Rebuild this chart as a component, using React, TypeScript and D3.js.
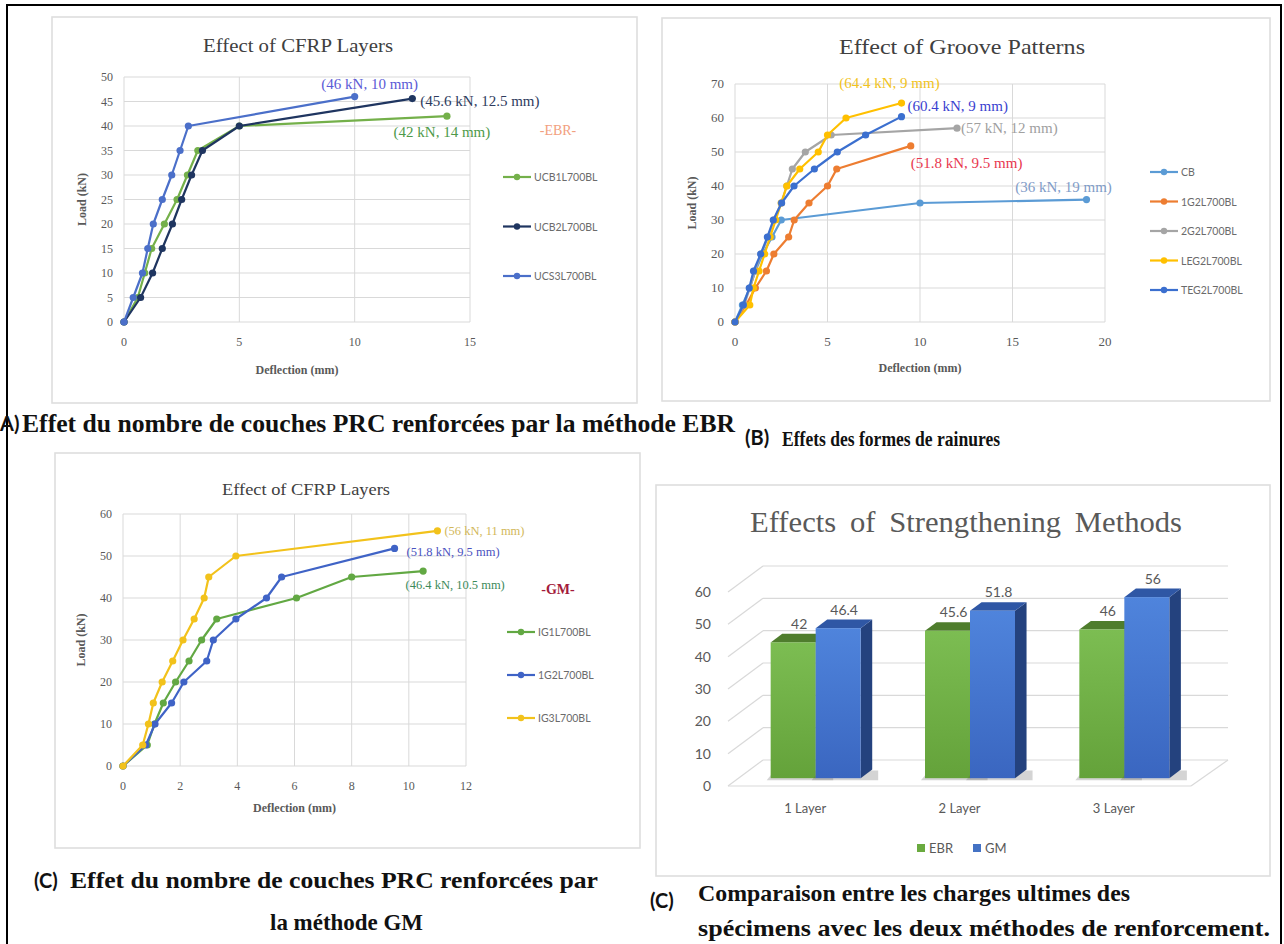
import React from 'react';
import * as d3 from 'd3';

const SERIF = '"Liberation Serif", "Times New Roman", serif';
const SANS = 'Lato, "Liberation Sans", Arial, sans-serif';
const GRID = '#d9d9d9';
const TXT = '#595959';

// ---------- Panel A : EBR, effect of CFRP layers ----------
const ebrNames = ['UCB1L700BL', 'UCB2L700BL', 'UCS3L700BL'];
const ucb1Defl = [0, 0.6, 0.9, 1.2, 1.75, 2.3, 2.75, 3.2, 5, 14];
const ucb1Load = [0, 5, 10, 15, 20, 25, 30, 35, 40, 42];
const ucb2Defl = [0, 0.72, 1.24, 1.66, 2.1, 2.5, 2.93, 3.4, 5, 12.5];
const ucb2Load = [0, 5, 10, 15, 20, 25, 30, 35, 40, 45.6];
const ucs3Defl = [0, 0.4, 0.8, 1.03, 1.27, 1.66, 2.07, 2.43, 2.79, 10];
const ucs3Load = [0, 5, 10, 15, 20, 25, 30, 35, 40, 46];
const ebrPeaks = ['(42 kN, 14 mm)', '(45.6 kN, 12.5 mm)', '(46 kN, 10 mm)'];

// ---------- Panel B : groove patterns ----------
const grooveNames = ['CB', '1G2L700BL', '2G2L700BL', 'LEG2L700BL', 'TEG2L700BL'];
const cbDefl = [0, 0.4, 0.8, 1.1, 1.5, 2.0, 2.5, 10, 19];
const cbLoad = [0, 5, 10, 15, 20, 25, 30, 35, 36];
const g1Defl = [0, 0.6, 1.1, 1.7, 2.1, 2.9, 3.2, 4, 5, 5.5, 9.5];
const g1Load = [0, 5, 10, 15, 20, 25, 30, 35, 40, 45, 51.8];
const g2Defl = [0, 0.5, 0.8, 1.1, 1.4, 1.8, 2.1, 2.5, 2.8, 3.1, 3.8, 5.2, 12];
const g2Load = [0, 5, 10, 15, 20, 25, 30, 35, 40, 45, 50, 55, 57];
const legDefl = [0, 0.8, 1.0, 1.3, 1.6, 1.9, 2.2, 2.5, 2.8, 3.5, 4.5, 5, 6, 9];
const legLoad = [0, 5, 10, 15, 20, 25, 30, 35, 40, 45, 50, 55, 60, 64.4];
const tegDefl = [0, 0.45, 0.77, 1.0, 1.39, 1.75, 2.07, 2.52, 3.19, 4.29, 5.53, 7.06, 9];
const tegLoad = [0, 5, 10, 15, 20, 25, 30, 35, 40, 45, 50, 55, 60.4];
const groovePeaks = ['(36 kN, 19 mm)', '(51.8 kN, 9.5 mm)', '(57 kN, 12 mm)', '(64.4 kN, 9 mm)', '(60.4 kN, 9 mm)'];

// ---------- Panel C : GM, effect of CFRP layers ----------
const gmNames = ['IG1L700BL', '1G2L700BL', 'IG3L700BL'];
const ig1Defl = [0, 0.85, 1.1, 1.41, 1.84, 2.31, 2.75, 3.28, 6.07, 8, 10.5];
const ig1Load = [0, 5, 10, 15, 20, 25, 30, 35, 40, 45, 46.4];
const ig2Defl = [0, 0.8, 1.12, 1.7, 2.13, 2.93, 3.16, 3.95, 5.02, 5.55, 9.5];
const ig2Load = [0, 5, 10, 15, 20, 25, 30, 35, 40, 45, 51.8];
const ig3Defl = [0, 0.69, 0.89, 1.06, 1.37, 1.74, 2.1, 2.49, 2.84, 3.0, 3.95, 11];
const ig3Load = [0, 5, 10, 15, 20, 25, 30, 35, 40, 45, 50, 56];
const gmPeaks = ['(46.4 kN, 10.5 mm)', '(51.8 kN, 9.5 mm)', '(56 kN, 11 mm)'];

// ---------- Panel D : strengthening methods ----------
const layerCats = ['1 Layer', '2 Layer', '3 Layer'];
const methods = ['EBR', 'GM'];
const ebrUltimate = [42, 45.6, 46];
const gmUltimate = [46.4, 51.8, 56];

type Ser = { name: string; xs: number[]; ys: number[]; color: string };
type Peak = { text: string; color: string; dx: number; dy: number; anchor: string };

function LineChart(p: any) {
  const { plot } = p;
  const x = d3.scaleLinear().domain([0, p.xMax]).range([plot.left, plot.right]);
  const y = d3.scaleLinear().domain([0, p.yMax]).range([plot.bottom, plot.top]);
  const xt = d3.range(0, p.xMax + 0.001, p.xStep);
  const yt = d3.range(0, p.yMax + 0.001, p.yStep);
  const path = (s: Ser) =>
    d3
      .line<[number, number]>()
      .x((d) => x(d[0]))
      .y((d) => y(d[1]))(s.xs.map((v, i) => [v, s.ys[i]]));
  return (
    <g>
      <rect x={p.box[0]} y={p.box[1]} width={p.box[2]} height={p.box[3]} fill="#fff" stroke="#dedede" strokeWidth={1.6} />
      <text
        x={p.titleX}
        y={p.titleY}
        textAnchor="middle"
        fontFamily={SERIF}
        fontSize={p.titleSize}
        fill="#404040"
        textLength={p.titleW}
        lengthAdjust="spacingAndGlyphs"
      >
        {p.title}
      </text>
      {yt.map((v) => (
        <line key={'h' + v} x1={plot.left} x2={plot.right} y1={y(v)} y2={y(v)} stroke={GRID} strokeWidth={1} />
      ))}
      {xt.map((v) => (
        <line key={'v' + v} x1={x(v)} x2={x(v)} y1={plot.top} y2={plot.bottom} stroke={GRID} strokeWidth={1} />
      ))}
      {yt.map((v) => (
        <text key={'yl' + v} x={plot.left - 11} y={y(v) + 4} textAnchor="end" fontFamily={SERIF} fontSize={p.tickSize} fill={TXT}>
          {v}
        </text>
      ))}
      {xt.map((v) => (
        <text key={'xl' + v} x={x(v)} y={plot.bottom + 24} textAnchor="middle" fontFamily={SERIF} fontSize={p.tickSize} fill={TXT}>
          {v}
        </text>
      ))}
      <text
        transform={`translate(${p.yTitleX},${(plot.top + plot.bottom) / 2}) rotate(-90)`}
        textAnchor="middle"
        fontFamily={SERIF}
        fontWeight="bold"
        fontSize={12}
        fill={TXT}
      >
        Load (kN)
      </text>
      <text x={(plot.left + plot.right) / 2} y={p.xTitleY} textAnchor="middle" fontFamily={SERIF} fontWeight="bold" fontSize={12} fill={TXT}>
        Deflection (mm)
      </text>
      {p.series.map((s: Ser) => (
        <g key={s.name}>
          <path d={path(s) || ''} fill="none" stroke={s.color} strokeWidth={2.2} strokeLinejoin="round" />
          {s.xs.map((v, i) => (
            <circle key={i} cx={x(v)} cy={y(s.ys[i])} r={3.6} fill={s.color} />
          ))}
        </g>
      ))}
      {p.peaks.map((pk: Peak, i: number) => {
        const s: Ser = p.series[i];
        const n = s.xs.length - 1;
        return (
          <text
            key={'pk' + i}
            x={x(s.xs[n]) + pk.dx}
            y={y(s.ys[n]) + pk.dy}
            textAnchor={pk.anchor}
            fontFamily={SERIF}
            fontSize={p.peakSize}
            fill={pk.color}
          >
            {pk.text}
          </text>
        );
      })}
      {p.tag && (
        <text x={p.tag.x} y={p.tag.y} textAnchor="middle" fontFamily={SERIF} fontWeight={p.tag.weight} fontSize={14} fill={p.tag.color}>
          {p.tag.text}
        </text>
      )}
      {p.series.map((s: Ser, i: number) => {
        const ly = p.legend.y0 + i * p.legend.gap;
        return (
          <g key={'lg' + i}>
            <line x1={p.legend.x} x2={p.legend.x + 28} y1={ly} y2={ly} stroke={s.color} strokeWidth={2.2} />
            <circle cx={p.legend.x + 14} cy={ly} r={3.2} fill={s.color} />
            <text x={p.legend.x + 31} y={ly + 4} fontFamily={SANS} fontSize={10.5} fill="#6b6b6b">
              {s.name}
            </text>
          </g>
        );
      })}
    </g>
  );
}

function BarPanel() {
  const yF = d3.scaleLinear().domain([0, 60]).range([786, 592]);
  const xb = d3.scaleBand().domain(layerCats).range([728, 1191]);
  const sub = d3.scaleBand().domain(methods).range([-45, 45]);
  const wall = { dx: 35, dy: -26 };
  const zf = 0.3;
  const depth = 0.33;
  const zx = wall.dx * zf;
  const zy = wall.dy * zf;
  const bx = wall.dx * depth;
  const by = wall.dy * depth;
  const ticks = d3.range(0, 61, 10);
  const fills: any = {
    EBR: { front: 'url(#gEbr)', top: '#4f7d2d', side: '#3f6a24' },
    GM: { front: 'url(#gGm)', top: '#2f57a5', side: '#24427e' },
  };
  const bars: any[] = [];
  layerCats.forEach((c, i) => {
    const cx = (xb(c) as number) + xb.bandwidth() / 2;
    methods.forEach((m, j) => {
      const v = j === 0 ? ebrUltimate[i] : gmUltimate[i];
      const x0 = cx + (sub(m) as number) + zx;
      const x1 = x0 + sub.bandwidth();
      const yt = yF(v) + zy;
      const yb = yF(0) + zy;
      bars.push({ key: c + m, m, v, x0, x1, yt, yb });
    });
  });
  return (
    <g>
      <defs>
        <linearGradient id="gEbr" x1="0" y1="0" x2="0" y2="1">
          <stop offset="0" stopColor="#7cbd52" />
          <stop offset="1" stopColor="#64a23a" />
        </linearGradient>
        <linearGradient id="gGm" x1="0" y1="0" x2="0" y2="1">
          <stop offset="0" stopColor="#4f84dc" />
          <stop offset="1" stopColor="#3a66c0" />
        </linearGradient>
      </defs>
      <rect x={656} y={485} width={614} height={391} fill="#fff" stroke="#dedede" strokeWidth={1.6} />
      <text
        x={966}
        y={532}
        textAnchor="middle"
        fontFamily={SERIF}
        fontSize={30}
        fill="#595959"
        wordSpacing={6}
        textLength={432}
        lengthAdjust="spacingAndGlyphs"
      >
        Effects of Strengthening Methods
      </text>
      {ticks.map((t) => (
        <g key={'g' + t}>
          <line x1={728} y1={yF(t)} x2={728 + wall.dx} y2={yF(t) + wall.dy} stroke={GRID} strokeWidth={1.2} />
          <line x1={728 + wall.dx} y1={yF(t) + wall.dy} x2={1228} y2={yF(t) + wall.dy} stroke={GRID} strokeWidth={1.2} />
          <text x={711} y={yF(t) + 5} textAnchor="end" fontFamily={SANS} fontSize={14} fill={TXT}>
            {t}
          </text>
        </g>
      ))}
      <line x1={728} y1={yF(0)} x2={1191} y2={yF(0)} stroke={GRID} strokeWidth={1.2} />
      <line x1={1191} y1={yF(0)} x2={1228} y2={yF(0) + wall.dy} stroke={GRID} strokeWidth={1.2} />
      {bars.map((b) => (
        <g key={b.key}>
          <polygon
            points={`${b.x0 - 4},${b.yb + 2} ${b.x1 + bx + 6},${b.yb + 2} ${b.x1 + bx + 6},${b.yb + by + 1} ${b.x0 + 4},${b.yb + by + 1}`}
            fill="#555"
            opacity={0.25}
          />
          <polygon
            points={`${b.x1},${b.yt} ${b.x1 + bx},${b.yt + by} ${b.x1 + bx},${b.yb + by} ${b.x1},${b.yb}`}
            fill={fills[b.m].side}
          />
          <polygon
            points={`${b.x0},${b.yt} ${b.x1},${b.yt} ${b.x1 + bx},${b.yt + by} ${b.x0 + bx},${b.yt + by}`}
            fill={fills[b.m].top}
          />
          <rect x={b.x0} y={b.yt} width={b.x1 - b.x0} height={b.yb - b.yt} fill={fills[b.m].front} />
        </g>
      ))}
      {bars.map((b) => (
        <text key={'t' + b.key} x={(b.x0 + b.x1) / 2 + 6} y={b.yt + by - 5} textAnchor="middle" fontFamily={SANS} fontSize={14} fill={TXT}>
          {b.v}
        </text>
      ))}
      {layerCats.map((c) => (
        <text key={c} x={(xb(c) as number) + xb.bandwidth() / 2} y={813} textAnchor="middle" fontFamily={SANS} fontSize={13} fill={TXT}>
          {c}
        </text>
      ))}
      <rect x={917} y={844} width={8} height={8} fill="#6aaa3f" />
      <text x={929} y={853} fontFamily={SANS} fontSize={13} fill={TXT}>
        EBR
      </text>
      <rect x={973} y={844} width={8} height={8} fill="#4472c4" />
      <text x={985} y={853} fontFamily={SANS} fontSize={13} fill={TXT}>
        GM
      </text>
    </g>
  );
}

function Caption({ x, y, w, text, size }: any) {
  return (
    <text x={x} y={y} fontFamily={SERIF} fontWeight="bold" fontSize={size} fill="#111" textLength={w} lengthAdjust="spacingAndGlyphs">
      {text}
    </text>
  );
}

function Tag({ x, y, text }: any) {
  return (
    <text x={x} y={y} fontFamily={SANS} fontWeight="bold" fontSize={20} fill="#111">
      {text}
    </text>
  );
}

const App = () => {
  const ebrSeries: Ser[] = [
    { name: ebrNames[0], xs: ucb1Defl, ys: ucb1Load, color: '#74b04a' },
    { name: ebrNames[1], xs: ucb2Defl, ys: ucb2Load, color: '#1f3560' },
    { name: ebrNames[2], xs: ucs3Defl, ys: ucs3Load, color: '#4b6fc9' },
  ];
  const ebrPk: Peak[] = [
    { text: ebrPeaks[0], color: '#4e9a4a', dx: -5, dy: 21, anchor: 'middle' },
    { text: ebrPeaks[1], color: '#2e3b5e', dx: 8, dy: 7, anchor: 'start' },
    { text: ebrPeaks[2], color: '#5b5bd6', dx: 15, dy: -8, anchor: 'middle' },
  ];
  const grooveSeries: Ser[] = [
    { name: grooveNames[0], xs: cbDefl, ys: cbLoad, color: '#5b9bd5' },
    { name: grooveNames[1], xs: g1Defl, ys: g1Load, color: '#ed7d31' },
    { name: grooveNames[2], xs: g2Defl, ys: g2Load, color: '#a5a5a5' },
    { name: grooveNames[3], xs: legDefl, ys: legLoad, color: '#ffc000' },
    { name: grooveNames[4], xs: tegDefl, ys: tegLoad, color: '#3b6fcf' },
  ];
  const groovePk: Peak[] = [
    { text: groovePeaks[0], color: '#7f9cc8', dx: -23, dy: -8, anchor: 'middle' },
    { text: groovePeaks[1], color: '#e8384f', dx: 0, dy: 22, anchor: 'start' },
    { text: groovePeaks[2], color: '#a0a0a0', dx: 4, dy: 5, anchor: 'start' },
    { text: groovePeaks[3], color: '#f2c31c', dx: -12, dy: -15, anchor: 'middle' },
    { text: groovePeaks[4], color: '#3a3fd0', dx: 6, dy: -6, anchor: 'start' },
  ];
  const gmSeries: Ser[] = [
    { name: gmNames[0], xs: ig1Defl, ys: ig1Load, color: '#62a843' },
    { name: gmNames[1], xs: ig2Defl, ys: ig2Load, color: '#3f63c6' },
    { name: gmNames[2], xs: ig3Defl, ys: ig3Load, color: '#f2c21b' },
  ];
  const gmPk: Peak[] = [
    { text: gmPeaks[0], color: '#3c8a5a', dx: 32, dy: 18, anchor: 'middle' },
    { text: gmPeaks[1], color: '#4a52c0', dx: 12, dy: 8, anchor: 'start' },
    { text: gmPeaks[2], color: '#d2b85a', dx: 7, dy: 4, anchor: 'start' },
  ];

  return (
    <svg width={1284} height={944} style={{ position: 'absolute', left: 0, top: 0, background: '#fff' }}>
      <rect x={0} y={0} width={1284} height={944} fill="#fff" />
      <LineChart
        box={[52, 17, 585, 386]}
        plot={{ left: 124, right: 470, top: 77, bottom: 322 }}
        xMax={15}
        xStep={5}
        yMax={50}
        yStep={5}
        series={ebrSeries}
        peaks={ebrPk}
        title="Effect of CFRP Layers"
        titleX={298}
        titleW={190}
        titleSize={19}
        titleY={52}
        tickSize={12}
        peakSize={15}
        yTitleX={86}
        xTitleY={374}
        tag={{ x: 558, y: 135, text: '-EBR-', color: '#f2a07e', weight: 'normal' }}
        legend={{ x: 503, y0: 177, gap: 49.5 }}
      />
      <LineChart
        box={[662, 18, 608, 383]}
        plot={{ left: 735, right: 1105, top: 84, bottom: 322 }}
        xMax={20}
        xStep={5}
        yMax={70}
        yStep={10}
        series={grooveSeries}
        peaks={groovePk}
        title="Effect of Groove Patterns"
        titleX={962}
        titleW={246}
        titleSize={21}
        titleY={54}
        tickSize={13}
        peakSize={15}
        yTitleX={696}
        xTitleY={372}
        legend={{ x: 1150, y0: 172, gap: 29.5 }}
      />
      <LineChart
        box={[55, 453, 585, 395]}
        plot={{ left: 123, right: 466, top: 514, bottom: 766 }}
        xMax={12}
        xStep={2}
        yMax={60}
        yStep={10}
        series={gmSeries}
        peaks={gmPk}
        title="Effect of CFRP Layers"
        titleX={306}
        titleW={168}
        titleSize={17}
        titleY={495}
        tickSize={12}
        peakSize={12.5}
        yTitleX={85}
        xTitleY={812}
        tag={{ x: 558, y: 594, text: '-GM-', color: '#a31b3b', weight: 'bold' }}
        legend={{ x: 507, y0: 632, gap: 43 }}
      />
      <BarPanel />

      {/* outer frame */}
      <polyline points="7,944 7,5 1281,5 1281,944" fill="none" stroke="#000" strokeWidth={2} />

      {/* captions */}
      <Tag x={0} y={431} text="A)" />
      <Caption x={22} y={432} w={713} size={26} text="Effet du nombre de couches PRC renforcées par  la méthode EBR" />
      <Tag x={745} y={445} text="(B)" />
      <Caption x={782} y={446} w={218} size={22} text="Effets des formes de rainures" />
      <Tag x={34} y={888} text="(C)" />
      <Caption x={70} y={888} w={528} size={23} text="Effet du nombre de couches PRC renforcées par" />
      <Caption x={270} y={930} w={153} size={23} text="la méthode GM" />
      <Tag x={650} y={908} text="(C)" />
      <Caption x={698} y={901} w={432} size={23} text="Comparaison entre les charges ultimes des" />
      <Caption x={698} y={936} w={572} size={23} text="spécimens avec les deux méthodes de renforcement." />
    </svg>
  );
};

export default App;
